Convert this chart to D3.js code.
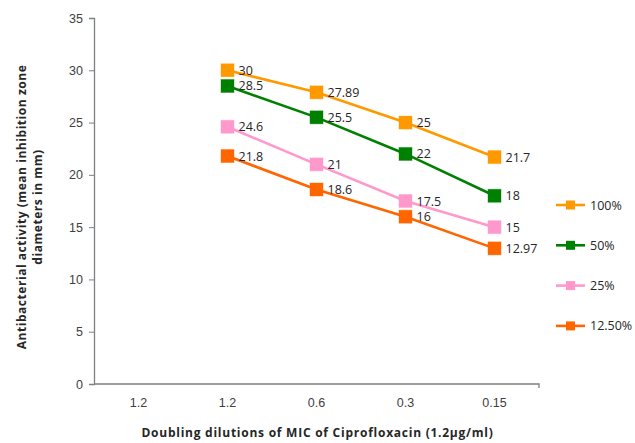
<!DOCTYPE html>
<html>
<head>
<meta charset="utf-8">
<script src="https://cdn.jsdelivr.net/npm/d3@7"></script>
<style>
  body { margin: 0; background: #fff; }
  svg { display: block; font-family: "Open Sans", "Liberation Sans", sans-serif; }
</style>
</head>
<body>
<svg id="chart" width="635" height="443"></svg>
<script>
// Doubling dilutions of the MIC (first slot is an empty category)
const categories = ["1.2", "1.2 ", "0.6", "0.3", "0.15"];
const pointCategories = ["1.2 ", "0.6", "0.3", "0.15"];
const seriesNames = ["100%", "50%", "25%", "12.50%"];
const values100 = [30, 27.89, 25, 21.7];
const values50 = [28.5, 25.5, 22, 18];
const values25 = [24.6, 21, 17.5, 15];
const values12 = [21.8, 18.6, 16, 12.97];
const yTicks = [0, 5, 10, 15, 20, 25, 30, 35];
const colors = ["#FF9900", "#008000", "#FF99CC", "#FF6600"];

const series = [values100, values50, values25, values12].map((vals, i) => ({
  name: seriesNames[i],
  color: colors[i],
  points: vals.map((v, j) => ({ cat: pointCategories[j], value: v }))
}));

const svg = d3.select("#chart");
const plotLeft = 94, plotRight = 539, plotTop = 18, plotBottom = 384;

const x = d3.scaleBand().domain(categories).range([plotLeft, plotRight]);
const y = d3.scaleLinear().domain([0, 35]).range([plotBottom, plotTop]);

// Y axis
const yAxis = svg.append("g")
  .attr("transform", `translate(${plotLeft},0)`)
  .call(d3.axisLeft(y).tickValues(yTicks).tickSize(5).tickPadding(6));
yAxis.select(".domain").attr("stroke", "#7f7f7f").attr("stroke-width", 1.3);
yAxis.selectAll(".tick line").attr("stroke", "#7f7f7f");
yAxis.selectAll("text").attr("font-size", 12.5).attr("fill", "#404040");

// X axis
const xAxis = svg.append("g")
  .attr("transform", `translate(0,${plotBottom})`)
  .call(d3.axisBottom(x).tickSize(0).tickPadding(14));
xAxis.select(".domain").attr("stroke", "#7f7f7f").attr("stroke-width", 1.3)
  .attr("d", `M${plotLeft},0H${plotRight}V4`);
xAxis.selectAll("text").attr("font-size", 12.5).attr("fill", "#404040");

// Axis titles
svg.append("text")
  .attr("x", (plotLeft + plotRight) / 2 + 1).attr("y", 437)
  .attr("text-anchor", "middle").attr("font-size", 12).attr("font-weight", "bold")
  .attr("letter-spacing", 0.75)
  .attr("fill", "#262626")
  .text("Doubling dilutions of MIC of Ciprofloxacin (1.2µg/ml)");

const yTitle = svg.append("text")
  .attr("transform", "translate(0,207) rotate(-90)")
  .attr("text-anchor", "middle").attr("font-size", 12).attr("font-weight", "bold")
  .attr("letter-spacing", 0.55)
  .attr("fill", "#262626");
yTitle.append("tspan").attr("x", 0).attr("y", 26).text("Antibacterial activity (mean inhibition zone");
yTitle.append("tspan").attr("x", 0).attr("y", 42).text("diameters in mm)");

// Lines, markers and value labels
const cx = d => x(d.cat) + x.bandwidth() / 2;
const line = d3.line().x(cx).y(d => y(d.value));

series.forEach(s => {
  const g = svg.append("g");
  g.append("path").datum(s.points)
    .attr("d", line).attr("fill", "none")
    .attr("stroke", s.color).attr("stroke-width", 2.6);
  g.selectAll("rect").data(s.points).join("rect")
    .attr("x", d => cx(d) - 6.5).attr("y", d => y(d.value) - 6.5)
    .attr("width", 13).attr("height", 13)
    .attr("fill", s.color).attr("stroke", s.color).attr("stroke-opacity", 0.4).attr("stroke-width", 1);
  g.selectAll("text").data(s.points).join("text")
    .attr("x", d => cx(d) + 11).attr("y", d => y(d.value) + 4.5)
    .attr("font-size", 12.5).attr("fill", "#262626")
    .text(d => d.value);
});

// Legend
const legend = svg.append("g");
series.forEach((s, i) => {
  const ly = 205 + i * 40.3;
  legend.append("line").attr("x1", 556).attr("x2", 585).attr("y1", ly).attr("y2", ly)
    .attr("stroke", s.color).attr("stroke-width", 2.6);
  legend.append("rect").attr("x", 566).attr("y", ly - 4.5).attr("width", 9).attr("height", 9)
    .attr("fill", s.color);
  legend.append("text").attr("x", 590).attr("y", ly + 4.5)
    .attr("font-size", 12.5).attr("fill", "#262626").text(s.name);
});
</script>
</body>
</html>
